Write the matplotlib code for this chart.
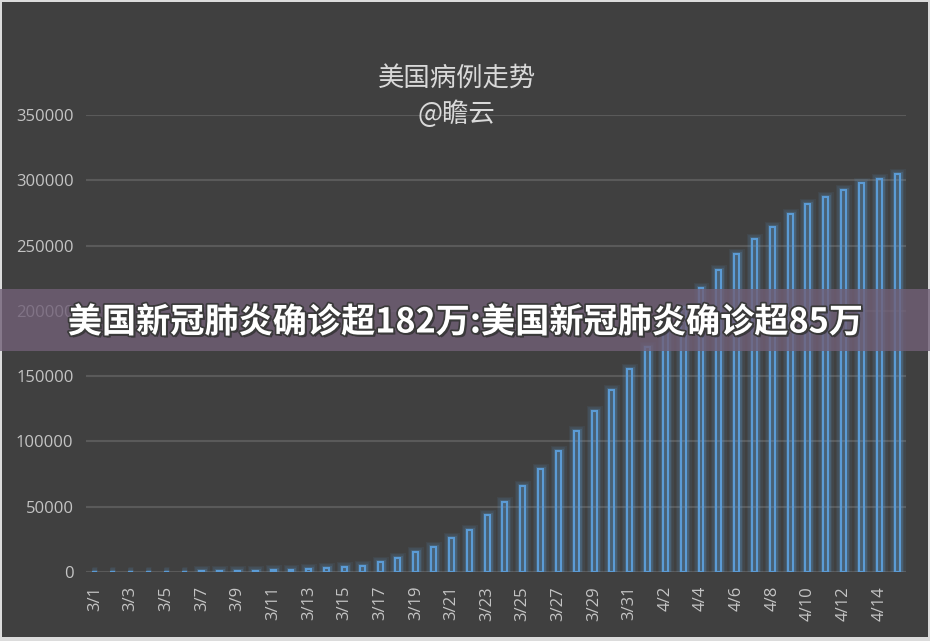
import matplotlib
matplotlib.use('Agg')
from matplotlib import pyplot as plt
from matplotlib.patches import Rectangle
import matplotlib.patheffects as pe

plt.rcParams['font.family'] = ['Noto Sans CJK SC', 'DejaVu Sans']

dates = ['3/%d' % d for d in range(1, 32)] + ['4/%d' % d for d in range(1, 16)]
cases = [75, 100, 124, 158, 221, 319, 435, 541, 704, 994, 1301, 1697, 2247, 2943,
         3800, 4600, 7700, 10700, 15000, 19000, 25800, 32000, 43500, 53500, 65800,
         78800, 92500, 107800, 123100, 139200, 155300, 172000, 188000, 203000,
         217800, 231300, 243300, 254800, 264500, 274000, 281600, 287500, 292800,
         297700, 301200, 304600]
yticks = [0, 50000, 100000, 150000, 200000, 250000, 300000, 350000]
title = '美国病例走势\n@瞻云'
banner = '美国新冠肺炎确诊超182万:美国新冠肺炎确诊超85万'

bg = '#404040'
blue = '#5b9bd5'

fig = plt.figure(figsize=(9.3, 6.41), dpi=100)
fig.patch.set_facecolor('#dcdcdc')
fig.patches.append(Rectangle((2 / 930, 4 / 641), 926 / 930, 635 / 641,
                             transform=fig.transFigure, facecolor=bg,
                             edgecolor='none', zorder=-1))

ax = fig.add_axes([86 / 930, 1 - 572 / 641, 820 / 930, 457 / 641])
ax.set_facecolor(bg)
ax.patch.set_alpha(0)

x = list(range(len(dates)))
# glow around the bars
for lw, a in [(8, 0.08), (5.5, 0.12), (3.5, 0.22)]:
    ax.bar(x, cases, width=0.28, facecolor='none', edgecolor=blue,
           linewidth=lw, alpha=a, zorder=2)
ax.bar(x, cases, width=0.28, facecolor='none', edgecolor=blue,
       linewidth=1.5, zorder=3)

ax.set_xlim(-0.5, len(dates) - 0.5)
ax.set_ylim(0, 350000)
ax.set_yticks(yticks)
ax.set_yticklabels([str(v) for v in yticks], family='Open Sans')
ax.set_xticks(x[::2])
ax.set_xticklabels(dates[::2], rotation=90, family='Open Sans')
ax.grid(axis='y', color='#5a5a5a', linewidth=1.5, zorder=1)
ax.set_axisbelow(True)
for s in ax.spines.values():
    s.set_visible(False)
ax.tick_params(axis='both', length=0, colors='#c4c4c4', labelsize=12)
ax.tick_params(axis='x', pad=10)
ax.tick_params(axis='y', pad=9)

fig.text(0.491, 1 - 97 / 641, title, ha='center', va='center', fontsize=19,
         color='#d9d9d9', linespacing=1.35)

fig.patches.append(Rectangle((0, 1 - 351 / 641), 1, 62 / 641,
                             transform=fig.transFigure, facecolor='#716077',
                             alpha=0.8, edgecolor='none', zorder=5))
fig.text(0.5, 1 - 322 / 641, banner, ha='center', va='center', fontsize=24.6,
         fontweight='heavy', color='white', zorder=6,
         path_effects=[pe.withSimplePatchShadow(offset=(1.5, -1.5), shadow_rgbFace='#222222', alpha=0.6),
                       pe.withStroke(linewidth=2.5, foreground='#3a3a3a')])

plt.savefig('out.png', dpi=100, facecolor=fig.get_facecolor())
